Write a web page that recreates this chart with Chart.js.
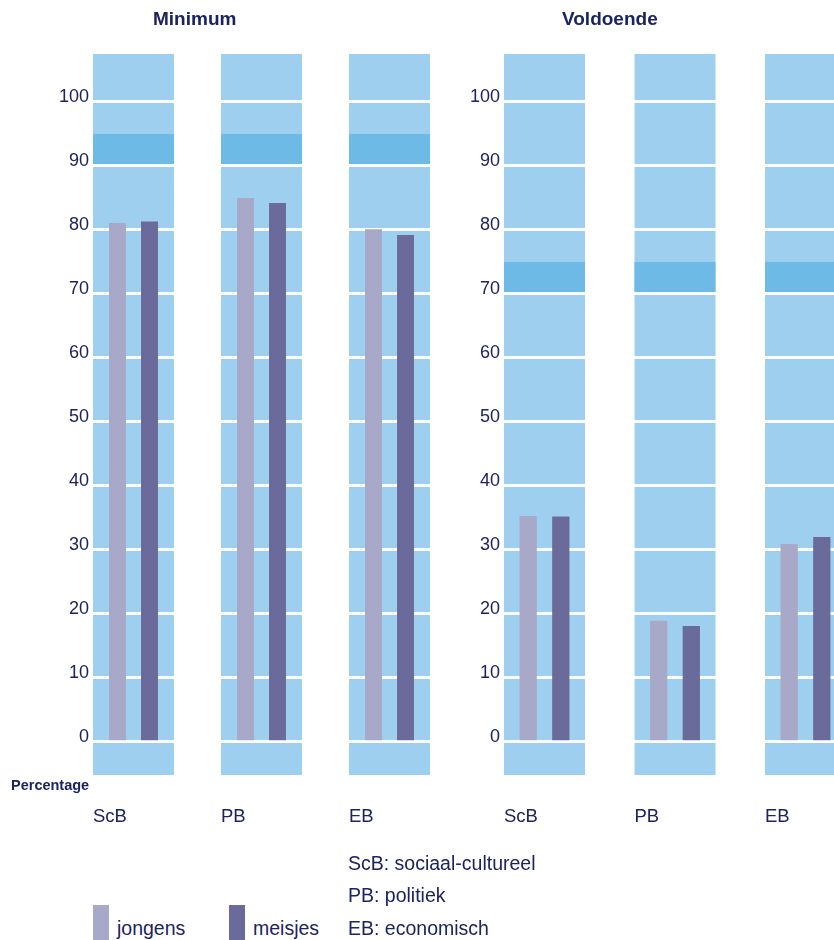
<!DOCTYPE html>
<html>
<head>
<meta charset="utf-8">
<script src="https://cdn.jsdelivr.net/npm/chart.js@4/dist/chart.umd.min.js"></script>
<style>
  html, body { margin:0; padding:0; width:834px; height:940px; overflow:hidden; background:#fff; }
  body { position:relative; font-family:"Liberation Sans", Arial, sans-serif; color:#1b2361; }
  .abs { position:absolute; white-space:nowrap; }
  canvas { position:absolute; top:0; }
  .title { font-weight:bold; font-size:19px; }
  .txt { font-size:19.5px; }
  .sw { position:absolute; width:16px; height:35px; }
</style>
</head>
<body>
<canvas id="cMin" style="left:0px"></canvas>
<canvas id="cVol" style="left:440px"></canvas>

<div class="abs title" id="tMin" style="left:153px; top:8px;">Minimum</div>
<div class="abs title" id="tVol" style="left:562px; top:8px;">Voldoende</div>
<div class="abs" style="left:11px; top:777px; font-weight:bold; font-size:14.5px;">Percentage</div>

<div class="abs txt" style="left:348px; top:852px;">ScB: sociaal-cultureel</div>
<div class="abs txt" style="left:348px; top:884px;">PB: politiek</div>
<div class="abs txt" style="left:348px; top:917px;">EB: economisch</div>

<div class="sw" style="left:93px; top:905px; background:#a8a9c8;"></div>
<div class="abs txt" style="left:117px; top:917px;">jongens</div>
<div class="sw" style="left:229px; top:905px; background:#6b6b9b;"></div>
<div class="abs txt" style="left:253px; top:917px;">meisjes</div>

<script>
// ---- data ----
const categories = ['ScB', 'PB', 'EB'];
const seriesNames = ['jongens', 'meisjes'];
const minimumJongens = [81.1, 85.0, 80.1];
const minimumMeisjes = [81.3, 84.2, 79.2];
const voldoendeJongens = [35.3, 18.9, 30.9];
const voldoendeMeisjes = [35.2, 18.1, 32.0];
const minimumNorm = [90, 95];
const voldoendeNorm = [70, 75];
const yRange = [-5.2, 107.5];
const yStep = 10;

// ---- styles ----
const TEXT = '#1b2361';
const COL_BG = '#9ecfee';
const BAND = '#6dbae6';
const C_J = '#a8a9c8';
const C_M = '#6b6b9b';
const COL_W = 81;
const TICK_FONT = { family: 'Liberation Sans', size: 18 };

// width of the widest y tick label, used to right-align mirrored labels
const mctx = document.createElement('canvas').getContext('2d');
mctx.font = TICK_FONT.size + 'px "' + TICK_FONT.family + '"';
const widestTick = mctx.measureText(String(Math.floor(yRange[1] / yStep) * yStep)).width;

const bgPlugin = {
  id: 'columns',
  beforeDraw(chart, args, opts) {
    const {ctx, chartArea} = chart;
    const xs = chart.scales.x, ys = chart.scales.y;
    ctx.save();
    for (let i = 0; i < categories.length; i++) {
      const cx = xs.getPixelForValue(i);
      ctx.fillStyle = COL_BG;
      ctx.fillRect(cx - COL_W / 2, chartArea.top, COL_W, chartArea.bottom - chartArea.top);
      const yt = ys.getPixelForValue(opts.band[1]);
      const yb = ys.getPixelForValue(opts.band[0]);
      ctx.fillStyle = BAND;
      ctx.fillRect(cx - COL_W / 2, yt, COL_W, yb - yt);
    }
    ctx.restore();
  }
};

function makeChart(id, canvasLeft, width, areaLeft, areaRight, labelRight, jongens, meisjes, band) {
  const cv = document.getElementById(id);
  cv.width = width; cv.height = 860;
  cv.style.width = width + 'px'; cv.style.height = '860px';
  return new Chart(cv, {
    type: 'bar',
    data: {
      labels: categories,
      datasets: [
        { label: seriesNames[0], data: jongens, backgroundColor: C_J, borderWidth: 0 },
        { label: seriesNames[1], data: meisjes, backgroundColor: C_M, borderWidth: 0 }
      ]
    },
    options: {
      responsive: false,
      animation: false,
      devicePixelRatio: 1,
      categoryPercentage: 0.5,
      barPercentage: 0.53,
      layout: { padding: { left: 0, right: (canvasLeft + width) - areaRight, top: 54, bottom: 860 - 775 - 60 } },
      plugins: {
        legend: { display: false },
        tooltip: { enabled: false },
        columns: { band: band }
      },
      scales: {
        x: {
          grid: { display: false, drawTicks: false },
          border: { display: false },
          afterFit: s => { s.height = 60; },
          ticks: {
            align: 'start',
            labelOffset: -COL_W / 2,
            padding: 31,
            color: TEXT,
            font: { family: 'Liberation Sans', size: 18.5 }
          }
        },
        y: {
          min: yRange[0], max: yRange[1],
          afterFit: s => { s.width = areaLeft - canvasLeft; },
          grid: { color: '#ffffff', lineWidth: 3, drawTicks: false },
          border: { display: false },
          ticks: {
            stepSize: yStep,
            includeBounds: false,
            mirror: true,
            crossAlign: 'far',
            padding: labelRight - areaLeft - widestTick,
            labelOffset: -5,
            color: TEXT,
            font: TICK_FONT
          }
        }
      }
    },
    plugins: [bgPlugin]
  });
}

makeChart('cMin', 0, 456, 69.5, 453.5, 89, minimumJongens, minimumMeisjes, minimumNorm);
makeChart('cVol', 440, 440, 479.25, 870.75, 500, voldoendeJongens, voldoendeMeisjes, voldoendeNorm);
</script>
</body>
</html>
